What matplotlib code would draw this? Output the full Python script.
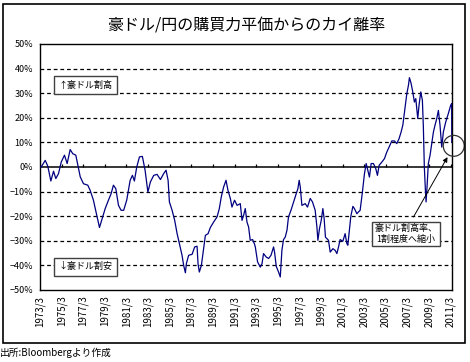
import numpy as np
import matplotlib
matplotlib.use("Agg")
import matplotlib.pyplot as plt
from matplotlib.patches import Rectangle, Ellipse

plt.rcParams['font.family'] = ['Noto Sans CJK JP', 'DejaVu Sans']

# 豪ドル/円 購買力平価からのカイ離率 (%)
years = [1973.17, 1973.28, 1973.65, 1973.89, 1974.17, 1974.42, 1974.63, 1974.88,
         1975.13, 1975.43, 1975.68, 1975.96, 1976.20, 1976.48, 1976.73, 1976.89,
         1977.19, 1977.59, 1977.81, 1978.11, 1978.42, 1978.67, 1978.95, 1979.20,
         1979.50, 1979.75, 1979.96, 1980.18, 1980.43, 1980.67, 1980.91, 1981.19,
         1981.51, 1981.72, 1981.90, 1982.12, 1982.37, 1982.64, 1982.89, 1983.15,
         1983.38, 1983.69, 1984.00, 1984.31, 1984.61, 1984.83, 1985.02, 1985.14,
         1985.39, 1985.63, 1985.85, 1986.06, 1986.31, 1986.46, 1986.62, 1986.71,
         1986.92, 1987.24, 1987.48, 1987.70, 1987.79, 1987.91, 1988.10, 1988.31,
         1988.47, 1988.72, 1988.93, 1989.23, 1989.55, 1989.76, 1989.94, 1990.16,
         1990.38, 1990.56, 1990.78, 1990.93, 1991.17, 1991.40, 1991.70, 1991.86,
         1992.01, 1992.16, 1992.32, 1992.47, 1992.62, 1992.84, 1993.02, 1993.09,
         1993.30, 1993.55, 1993.71, 1993.85, 1994.10, 1994.32, 1994.54, 1994.78,
         1994.87, 1995.03, 1995.24, 1995.40, 1995.55, 1995.70, 1995.86, 1996.02,
         1996.16, 1996.39, 1996.63, 1996.88, 1997.03, 1997.15, 1997.25, 1997.40,
         1997.71, 1997.92, 1998.17, 1998.38, 1998.63, 1998.79, 1998.88, 1999.03,
         1999.19, 1999.34, 1999.46, 1999.58, 1999.86, 2000.02, 2000.27, 2000.48,
         2000.64, 2000.79, 2000.94, 2001.19, 2001.40, 2001.56, 2001.65, 2001.80,
         2001.93, 2002.12, 2002.26, 2002.49, 2002.63, 2002.79, 2003.00, 2003.19,
         2003.35, 2003.50, 2003.65, 2003.81, 2004.02, 2004.24, 2004.39, 2004.55,
         2004.80, 2005.04, 2005.26, 2005.47, 2005.72, 2005.96, 2006.18, 2006.39,
         2006.58, 2006.74, 2006.95, 2007.11, 2007.26, 2007.35, 2007.50, 2007.66,
         2007.81, 2007.94, 2008.12, 2008.24, 2008.40, 2008.55, 2008.64, 2008.73,
         2008.83, 2008.89, 2008.98, 2009.10, 2009.26, 2009.42, 2009.57, 2009.72,
         2009.88, 2010.03, 2010.18, 2010.34, 2010.49, 2010.71, 2010.95, 2011.17,
         2011.26, 2011.27]
deviation = [0.0, 0.0, 2.7, 0.3, -5.7, -1.7, -4.7, -2.7,
             2.0, 4.8, 1.4, 7.1, 5.4, 4.8, -0.7, -4.0,
             -6.8, -7.4, -9.5, -13.5, -19.6, -24.6, -20.6, -16.9,
             -13.5, -10.8, -7.4, -8.8, -15.6, -17.6, -17.6, -13.5,
             -5.4, -3.4, -5.7, 0.0, 4.1, 4.3, -1.3, -10.2,
             -6.1, -3.4, -3.0, -5.1, -2.7, -1.3, -5.4, -14.2,
             -17.6, -21.7, -27.0, -31.1, -35.9, -40.0, -43.0, -39.3,
             -35.9, -35.5, -32.5, -32.2, -39.3, -42.7, -40.0, -33.2,
             -27.8, -27.1, -24.6, -22.4, -20.3, -16.9, -12.2, -8.1,
             -5.4, -9.5, -12.8, -16.3, -13.5, -15.6, -14.9, -21.7,
             -19.6, -16.9, -22.4, -24.4, -29.8, -29.5, -31.4, -32.5,
             -38.6, -40.7, -39.3, -35.2, -36.6, -37.2, -35.9, -32.5,
             -34.6, -40.4, -42.7, -44.7, -33.9, -29.5, -28.5, -25.7,
             -20.3, -17.6, -14.2, -10.8, -8.8, -5.4, -8.1, -15.6,
             -14.9, -16.3, -12.8, -14.2, -17.6, -24.4, -29.8, -25.0,
             -21.7, -16.9, -21.0, -28.5, -29.8, -34.6, -33.2, -33.9,
             -35.2, -32.5, -29.5, -30.2, -27.1, -31.1, -31.8, -25.7,
             -20.0, -16.0, -16.9, -19.0, -18.3, -17.6, -10.2, -2.7,
             1.4, -1.3, -4.1, 1.4, 1.4, -0.7, -3.4, 0.7,
             2.0, 3.4, 6.1, 8.1, 10.6, 10.6, 9.5, 11.5,
             14.2, 17.0, 24.4, 29.8, 33.2, 36.3, 34.1, 30.5,
             26.4, 27.8, 19.7, 25.1, 30.5, 27.1, 16.3, 0.0,
             -9.5, -14.2, -8.1, 1.4, 4.8, 9.5, 14.2, 17.0,
             19.7, 23.0, 17.0, 8.1, 14.2, 18.3, 21.7, 25.1,
             25.8, 10.2]

tick_years = np.arange(1973, 2012, 2)
tick_labels = ['%d/3' % y for y in tick_years]
y_ticks = np.arange(-50, 51, 10)

fig = plt.figure(figsize=(4.7, 3.62), dpi=100)
ax = fig.add_axes([0.0851, 0.1989, 0.8766, 0.6796])

# outer frame
fig.patches.append(Rectangle((0.0064, 0.0525), 0.983, 0.9365, transform=fig.transFigure,
                             fill=False, edgecolor='black', lw=1.2))

for v in y_ticks:
    if v not in (-50, 0, 50):
        ax.axhline(v, color='black', lw=0.9, linestyle=(0, (3, 2.3)), zorder=1)
ax.axhline(0, color='black', lw=1.1, zorder=2)

tick_pos = tick_years + 3/12 - 1/12
ax.vlines(tick_pos, 0, 1.1, color='black', lw=0.9, zorder=2)

ax.plot(years, deviation, color='#000080', lw=0.9, zorder=3)

ax.set_xlim(1973.17, 2011.29)
ax.set_ylim(-50, 50)
ax.set_xticks(tick_pos)
ax.set_xticklabels(tick_labels, rotation=90, fontsize=7)
ax.set_yticks(y_ticks)
ax.set_yticklabels(['%d%%' % v if v >= 0 else '\u2212%d%%' % -v for v in y_ticks], fontsize=6.5)
ax.tick_params(axis='x', length=0, pad=4)
ax.tick_params(axis='y', length=0, pad=5)
for s in ax.spines.values():
    s.set_linewidth(1.0)

ax.set_title('豪ドル/円の購買力平価からのカイ離率', fontsize=11.5, pad=10)

box = dict(boxstyle='square,pad=0.5', fc='white', ec='#404040', lw=1.0)
ax.text(1977.37, 33.2, '↑豪ドル割高', fontsize=6.5, ha='center', va='center', bbox=box, zorder=5)
ax.text(1977.37, -40.6, '↓豪ドル割安', fontsize=6.5, ha='center', va='center', bbox=box, zorder=5)
ax.text(2007.04, -27.2, '豪ドル割高率、\n1割程度へ縮小', fontsize=6.5, ha='center', va='center',
        bbox=dict(boxstyle='square,pad=0.25', fc='white', ec='#404040', lw=1.0),
        linespacing=1.3, zorder=5)

ax.add_patch(Ellipse((2011.45, 8.6), 1.94, 8.5, fill=False, ec='#303030', lw=0.9, clip_on=False, zorder=4))
ax.annotate('', xy=(2011.0, 5.0), xytext=(2007.6, -21.3),
            arrowprops=dict(arrowstyle='-|>', color='black', lw=0.7, mutation_scale=7), zorder=4)

fig.text(0.0, 0.025, '出所:Bloombergより作成', fontsize=7, ha='left', va='center')

fig.savefig('out.png', dpi=100)
